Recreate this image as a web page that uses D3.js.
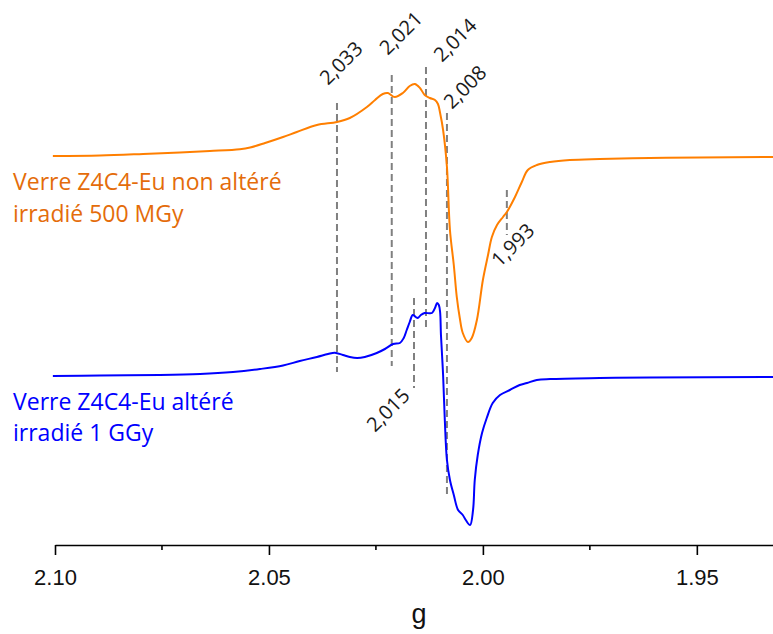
<!DOCTYPE html>
<html>
<head>
<meta charset="utf-8">
<script src="https://cdn.jsdelivr.net/npm/d3@7"></script>
<style>
  html, body { margin: 0; padding: 0; background: #fff; }
  svg { display: block; }
</style>
</head>
<body>
<svg id="chart" width="773" height="634"></svg>
<script>
// ---- Data (g values, intensity in arbitrary units incl. vertical offset) ----
const orangeG = [2.1005, 2.0895, 2.0794, 2.0708, 2.0638, 2.0568, 2.0544, 2.0509, 2.0467, 2.0435, 2.0388,
  2.0341, 2.0311, 2.0271, 2.0252, 2.0234, 2.0222, 2.0206, 2.0187, 2.0171, 2.0159,
  2.0147, 2.0136, 2.0124, 2.0112, 2.0105, 2.0100, 2.0093, 2.0084, 2.0077, 2.0068,
  2.0061, 2.0054, 2.0047, 2.0035, 2.0026, 2.0014, 2.0000, 1.9988, 1.9979, 1.9967,
  1.9953, 1.9944, 1.9925, 1.9909, 1.9895, 1.9874, 1.9843, 1.9797, 1.9727, 1.9610,
  1.9493, 1.9322];
const orangeI = [38.9, 38.95, 39.1, 39.25, 39.4, 39.58, 39.75, 40.2, 40.8, 41.3, 42.0,
  42.3, 42.7, 43.8, 44.5, 45.1, 45.2, 44.8, 45.2, 45.9, 46.1,
  45.7, 45.0, 44.7, 44.5, 44.1, 43.2, 41.5, 37.8, 31.5, 28.0,
  24.8, 22.7, 21.2, 20.3, 20.7, 22.5, 26.5, 29.0, 30.8, 32.0,
  32.8, 33.3, 34.8, 36.3, 37.5, 38.0, 38.3, 38.5, 38.6, 38.7,
  38.75, 38.8];

const blueG = [2.1005, 2.0895, 2.0755, 2.0661, 2.0584, 2.0521, 2.0467, 2.0428, 2.0388, 2.0362,
  2.0346, 2.0327, 2.0311, 2.0294, 2.0276, 2.0248, 2.0229, 2.0210, 2.0194, 2.0185,
  2.0178, 2.0171, 2.0164, 2.0157, 2.0152, 2.0145, 2.0136, 2.0119, 2.0112, 2.0107,
  2.0103, 2.0100, 2.0098, 2.0093, 2.0089, 2.0084, 2.0077, 2.0068, 2.0058, 2.0047,
  2.0040, 2.0030, 2.0023, 2.0019, 2.0012, 2.0002, 1.9991, 1.9977, 1.9960, 1.9937,
  1.9914, 1.9897, 1.9874, 1.9843, 1.9727, 1.9610, 1.9322];
const blueI = [16.9, 16.95, 17.0, 17.1, 17.3, 17.6, 17.95, 18.4, 18.8, 19.1,
  19.23, 19.0, 18.8, 18.7, 18.8, 19.2, 19.6, 20.1, 20.2, 20.7,
  21.5, 22.3, 23.0, 22.8, 22.7, 23.0, 23.2, 23.2, 23.7, 24.2,
  24.0, 23.3, 21.0, 17.0, 12.5, 8.5, 6.5, 5.0, 3.5, 3.0,
  2.5, 2.0, 3.5, 6.5, 9.0, 11.2, 12.7, 14.2, 15.0, 15.5,
  16.0, 16.2, 16.5, 16.6, 16.7, 16.75, 16.8];

// marker lines: position g, label, extent (intensity units)
const markerG     = [2.0341, 2.0213, 2.0133, 2.0084, 1.9944, 2.0161];
const markerLabel = ["2,033", "2,021", "2,014", "2,008", "1,993", "2,015"];
const markerTop   = [44.2, 47.0, 47.8, 43.2, 35.5, 24.7];
const markerBot   = [17.3, 17.9, 21.7, 4.7, 31.0, 15.7];

const majorTicks = [2.10, 2.05, 2.00, 1.95];
const minorTicks = [2.075, 2.025, 1.975];

const seriesNames = [
  ["Verre Z4C4-Eu non altéré", "irradié 500 MGy"],
  ["Verre Z4C4-Eu altéré", "irradié 1 GGy"]
];

// ---- Layout ----
const svg = d3.select("#chart");
const x = d3.scaleLinear().domain([2.10, 1.9322]).range([55, 773]);
const y = d3.scaleLinear().domain([0, 50]).range([545, 45]);
const axisY = 545;

// label offsets (pixels) relative to the line end the label sits at
const labelLayout = [
  {end: "top", dx: -9, dy: -17},
  {end: "top", dx: -4, dy: -19},
  {end: "top", dx: 16, dy: -4},
  {end: "top", dx: 5, dy: -3},
  {end: "bot", dx: -7, dy: 33},
  {end: "bot", dx: -39, dy: 45}
];

// ---- Marker dashed lines ----
const markers = markerG.map((g, i) => ({g, label: markerLabel[i], top: markerTop[i], bot: markerBot[i], lay: labelLayout[i]}));
svg.append("g").selectAll("line").data(markers).join("line")
  .attr("x1", d => x(d.g)).attr("x2", d => x(d.g))
  .attr("y1", d => y(d.top)).attr("y2", d => y(d.bot))
  .attr("stroke", "#808080").attr("stroke-width", 2)
  .attr("stroke-dasharray", "7,4");

// ---- Curves ----
const line = d3.line().x(d => x(d[0])).y(d => y(d[1])).curve(d3.curveCatmullRom.alpha(0.5));
svg.append("path").datum(orangeG.map((g, i) => [g, orangeI[i]]))
  .attr("d", line).attr("fill", "none").attr("stroke", "#FF7F00").attr("stroke-width", 2);
svg.append("path").datum(blueG.map((g, i) => [g, blueI[i]]))
  .attr("d", line).attr("fill", "none").attr("stroke", "#0000FF").attr("stroke-width", 2);

// ---- Marker labels ----
svg.append("g").selectAll("text").data(markers).join("text")
  .attr("transform", d => {
    const bx = x(d.g) + d.lay.dx;
    const by = (d.lay.end === "top" ? y(d.top) : y(d.bot)) + d.lay.dy;
    return `translate(${bx},${by}) rotate(-45)`;
  })
  .attr("font-family", "'Open Sans', sans-serif")
  .attr("font-size", 20)
  .attr("fill", "#1a1a1a")
  .text(d => d.label);

// ---- Axis ----
const axis = d3.axisBottom(x).tickValues(majorTicks).tickFormat(d3.format(".2f"))
  .tickSize(10).tickSizeOuter(0).tickPadding(14);
const ax = svg.append("g").attr("transform", `translate(0,${axisY})`).call(axis);
ax.select(".domain").attr("stroke", "#000").attr("stroke-width", 1.6);
ax.selectAll(".tick line").attr("stroke", "#000").attr("stroke-width", 1.6);
ax.selectAll(".tick text")
  .attr("font-family", "'Liberation Sans', Arial, sans-serif")
  .attr("font-size", 22).attr("fill", "#111");
svg.append("g").attr("transform", `translate(0,${axisY})`).selectAll("line").data(minorTicks).join("line")
  .attr("x1", d => x(d)).attr("x2", d => x(d)).attr("y1", 0).attr("y2", 5)
  .attr("stroke", "#000").attr("stroke-width", 1.6);

svg.append("text").attr("x", 419).attr("y", 623).attr("text-anchor", "middle")
  .attr("font-family", "'Liberation Sans', Arial, sans-serif").attr("font-size", 27)
  .attr("fill", "#111").text("g");

// ---- Series labels ----
const labelColors = ["#E46C0A", "#0000FF"];
const labelBase = [[190, 222], [410, 441]];
seriesNames.forEach((lines, i) => {
  lines.forEach((t, j) => {
    svg.append("text").attr("x", 13).attr("y", labelBase[i][j])
      .attr("font-family", "'Open Sans', sans-serif").attr("font-size", 23)
      .attr("fill", labelColors[i]).text(t);
  });
});
</script>
</body>
</html>
